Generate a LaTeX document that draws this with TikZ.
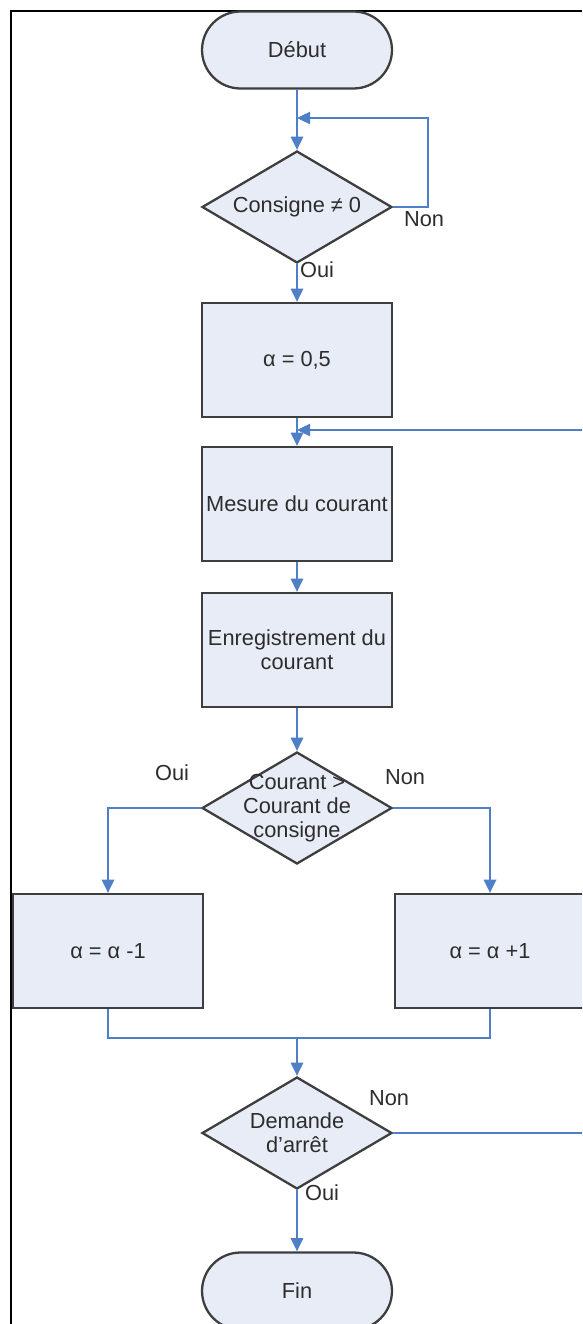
\documentclass[tikz,border=0pt]{standalone}
\usepackage{fontspec}
\setmainfont{Liberation Sans}
\usetikzlibrary{arrows.meta,shapes.geometric,shapes.misc}
\definecolor{flowblue}{RGB}{79,127,199}
\definecolor{boxfill}{RGB}{231,236,246}
\definecolor{boxdraw}{RGB}{62,62,62}
\definecolor{txtgray}{RGB}{45,45,45}

\begin{document}
\begin{tikzpicture}[x=0.02cm,y=-0.02cm]
\tikzset{
  chartnode/.style={draw=boxdraw,fill=boxfill,line width=1.3pt,text=txtgray,
    font=\fontsize{12.4}{13.6}\selectfont,align=center,inner sep=0pt},
  terminal/.style={chartnode,rounded rectangle,minimum width=3.8cm,minimum height=1.54cm},
  process/.style={chartnode,rectangle,minimum width=3.8cm,minimum height=2.28cm},
  decision/.style={chartnode,diamond,minimum width=3.8cm,minimum height=2.24cm},
  dtext/.style={text=txtgray,font=\fontsize{12.4}{13.6}\selectfont,align=center,inner sep=0pt},
  answer/.style={text=txtgray,font=\fontsize{12.4}{13.6}\selectfont,inner sep=0pt},
  link/.style={draw=flowblue,line width=1.1pt},
  flow/.style={link,-{Triangle[length=7.5pt,width=7pt]}},
  frame/.style={draw=black,line width=1.7pt}
}
\useasboundingbox (0,0) rectangle (582,1324);
\clip (0,0) rectangle (582,1324);
\fill[white] (0,0) rectangle (582,1324);
\draw[frame] (11,1324) -- (11,11) -- (582,11);
% steps of the chart
\node[terminal] (debut) at (297,50) {Début};
\node[decision,label={[dtext]center:Consigne ≠ 0}] (cons) at (297,207) {};
\node[process] (init) at (297,360) {α = 0,5};
\node[process] (mes) at (297,504) {Mesure du courant};
\node[process] (enr) at (297,650) {Enregistrement du\\courant};
\node[decision,label={[dtext]center:{Courant >\\Courant de\\consigne}}] (comp) at (297,808) {};
\node[process] (dec) at (108,951) {α = α -1};
\node[process] (inc) at (490,951) {α = α +1};
\node[decision,label={[dtext]center:{Demande\\d'arrêt}}] (arret) at (297,1133) {};
\node[terminal] (fin) at (297,1291) {Fin};
% answers
\node[answer] (cons_non) at (424,219) {Non};
\node[answer] (cons_oui) at (317,270) {Oui};
\node[answer] (comp_oui) at (172,773) {Oui};
\node[answer] (comp_non) at (405,777) {Non};
\node[answer] (arret_non) at (389,1098) {Non};
\node[answer] (arret_oui) at (322,1193) {Oui};
% turning points
\coordinate (loop1) at (428,118);
\coordinate (entry1) at (297,118);
\coordinate (loop2) at (596,430);
\coordinate (entry2) at (297,430);
\coordinate (merge) at (297,1038);
% connectors
\draw[flow] (debut) -- (cons);
\draw[flow] (cons.east) -| (loop1) -- (entry1);
\draw[flow] (cons) -- (init);
\draw[flow] (init) -- (mes);
\draw[flow] (mes) -- (enr);
\draw[flow] (enr) -- (comp);
\draw[flow] (comp.west) -| (dec);
\draw[flow] (comp.east) -| (inc);
\draw[link] (dec.south) |- (merge) -| (inc.south);
\draw[flow] (merge) -- (arret);
\draw[flow] (arret.east) -| (loop2) -- (entry2);
\draw[flow] (arret) -- (fin);
\end{tikzpicture}
\end{document}
